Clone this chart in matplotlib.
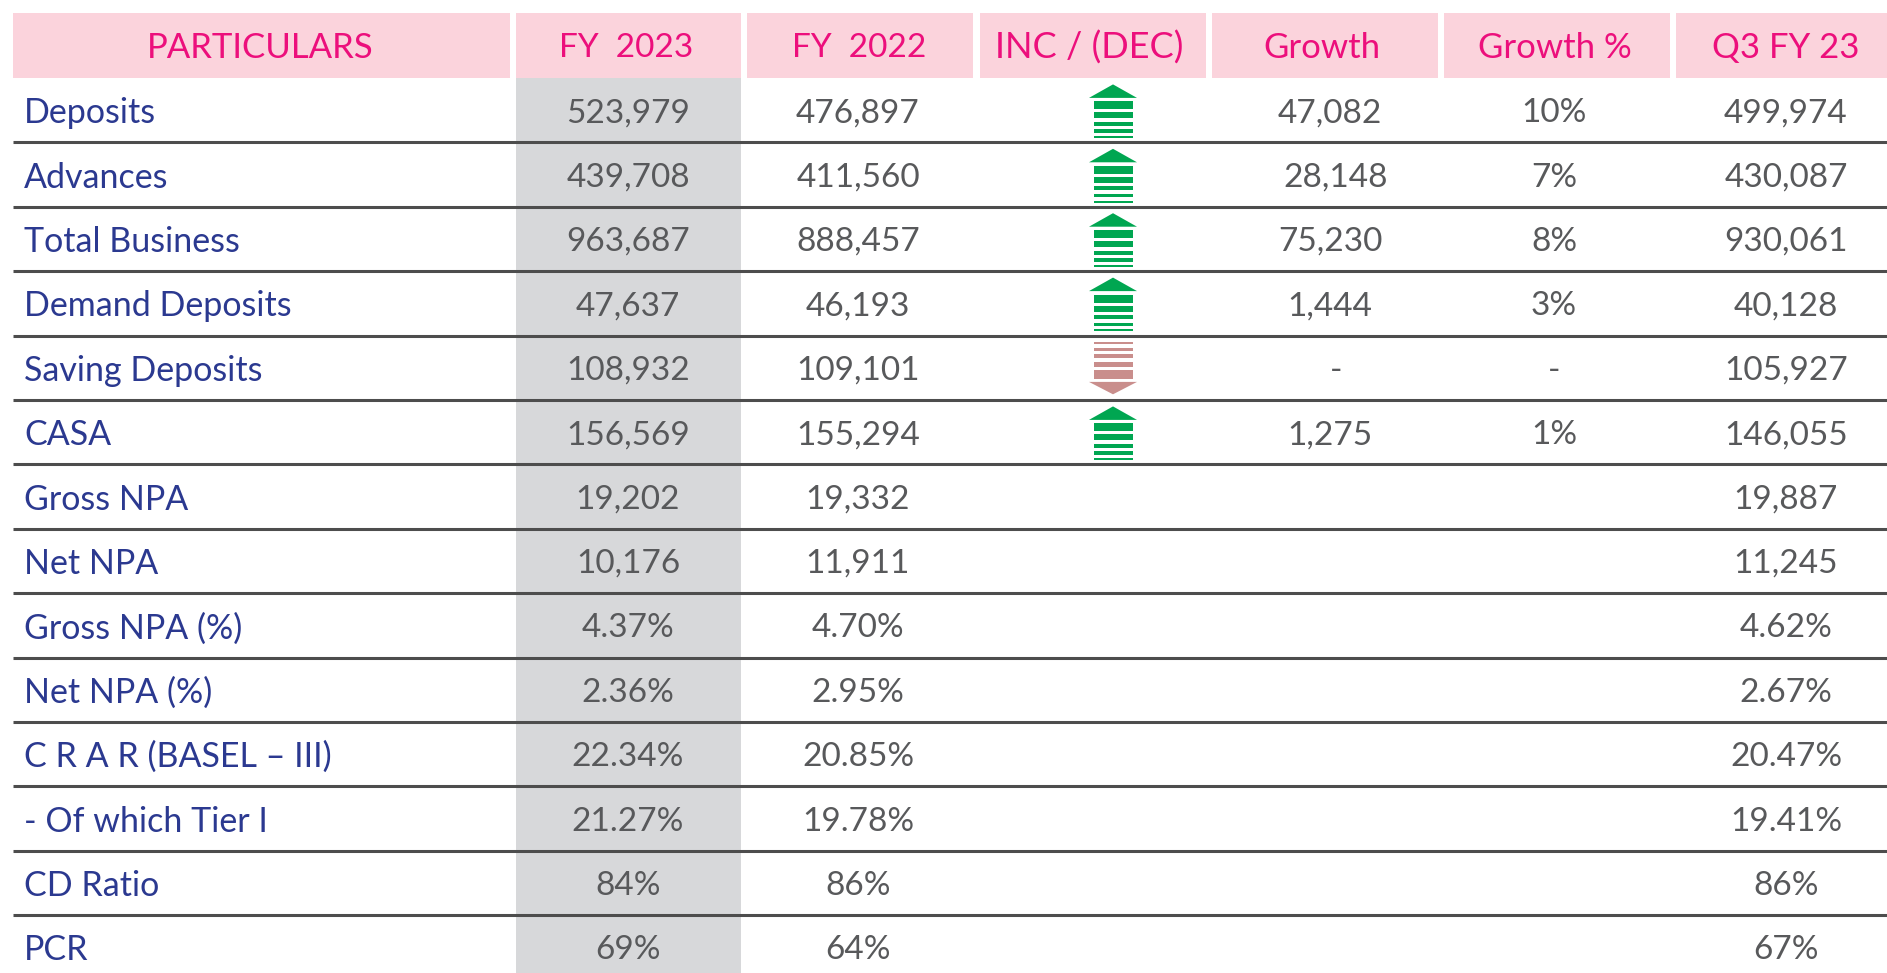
import matplotlib
matplotlib.use('Agg')
import matplotlib.pyplot as plt
from matplotlib.patches import Rectangle, Polygon

headers = ['PARTICULARS', 'FY  2023', 'FY  2022', 'INC / (DEC)', 'Growth', 'Growth %', 'Q3 FY 23']
particulars = ['Deposits', 'Advances', 'Total Business', 'Demand Deposits', 'Saving Deposits',
               'CASA', 'Gross NPA', 'Net NPA', 'Gross NPA (%)', 'Net NPA (%)',
               'C R A R (BASEL – III)', '- Of which Tier I', 'CD Ratio', 'PCR']
fy2023 = ['523,979', '439,708', '963,687', '47,637', '108,932', '156,569', '19,202', '10,176',
          '4.37%', '2.36%', '22.34%', '21.27%', '84%', '69%']
fy2022 = ['476,897', '411,560', '888,457', '46,193', '109,101', '155,294', '19,332', '11,911',
          '4.70%', '2.95%', '20.85%', '19.78%', '86%', '64%']
direction = [1, 1, 1, 1, -1, 1]
growth = ['47,082', '28,148', '75,230', '1,444', '-', '1,275']
growth_pct = ['10%', '7%', '8%', '3%', '-', '1%']
q3fy23 = ['499,974', '430,087', '930,061', '40,128', '105,927', '146,055', '19,887', '11,245',
          '4.62%', '2.67%', '20.47%', '19.41%', '86%', '67%']

W, H = 1887, 973
FONT = 'Lato'
PINK = '#fbd3dc'
MAGENTA = '#ec0f7c'
BLUE = '#2b3990'
GREY = '#58595b'
LINE = '#4d4d4d'

col_left = [13, 516, 747, 980, 1212, 1444, 1676]
col_right = [510, 741, 973, 1206, 1438, 1670, 1887]
head_x = [260, 626, 859, 1089, 1322, 1555, 1786]
head_size = [25, 24, 24, 26, 25, 25, 25]
growth_x = [1330, 1336, 1330, 1330, 1336, 1330]
top = 78
row_h = 64.4
text_dy = 3
arrow_x = 1113
NUM = 24

fig = plt.figure(figsize=(W / 100, H / 100), dpi=100)
ax = fig.add_axes([0, 0, 1, 1])
ax.set_xlim(0, W)
ax.set_ylim(H, 0)
ax.axis('off')

# Header boxes
for l, r, x, t, s in zip(col_left, col_right, head_x, headers, head_size):
    ax.add_patch(Rectangle((l, 13), r - l, top - 13, facecolor=PINK, edgecolor='none'))
    ax.text(x, 48, t, ha='center', va='center', size=s, color=MAGENTA, family=FONT)

# Grey FY 2023 column
ax.add_patch(Rectangle((516, top), 225, H - top, facecolor='#d7d8da', edgecolor='none', zorder=1))

def draw_arrow(y0, up):
    # y0 is the top rule of the row, offsets are pixels below it
    if up:
        color = '#00a651'
        off = row_h
        tri = [(-24, -44.5), (24, -44.5), (0, -58)]
        bars = [(-41, -33), (-30, -24), (-20.5, -16.5), (-13, -9.7), (-6.3, -4.3)]
    else:
        color = '#c98e8c'
        off = 0
        tri = [(-24, 46.3), (24, 46.3), (0, 58.7)]
        bars = [(6.7, 8.7), (12.7, 15.3), (18.7, 22.7), (26.3, 31.3), (34.7, 43)]
    ax.add_patch(Polygon([(arrow_x + a, y0 + off + b) for a, b in tri],
                         facecolor=color, edgecolor='none', zorder=3))
    for b0, b1 in bars:
        ax.add_patch(Rectangle((arrow_x - 19.5, y0 + off + b0), 39, b1 - b0,
                               facecolor=color, edgecolor='none', zorder=3))

for i, name in enumerate(particulars):
    y = top + i * row_h + row_h / 2 + text_dy
    ax.text(24, y, name, ha='left', va='center', size=24.5, color=BLUE, family=FONT, zorder=4)
    ax.text(628, y, fy2023[i], ha='center', va='center', size=NUM, color=GREY, family=FONT, zorder=4)
    ax.text(858, y, fy2022[i], ha='center', va='center', size=NUM, color=GREY, family=FONT, zorder=4)
    ax.text(1786, y, q3fy23[i], ha='center', va='center', size=NUM, color=GREY, family=FONT, zorder=4)
    if i < len(direction):
        draw_arrow(top + i * row_h, direction[i] > 0)
        ax.text(growth_x[i], y, growth[i], ha='center', va='center', size=NUM, color=GREY, family=FONT, zorder=4)
        ax.text(1554, y, growth_pct[i], ha='center', va='center', size=NUM, color=GREY, family=FONT, zorder=4)
    if i < len(particulars) - 1:
        yl = top + (i + 1) * row_h
        ax.plot([13, W], [yl, yl], color=LINE, lw=2.2, solid_capstyle='butt', zorder=2)

fig.savefig('out.png', dpi=100)
